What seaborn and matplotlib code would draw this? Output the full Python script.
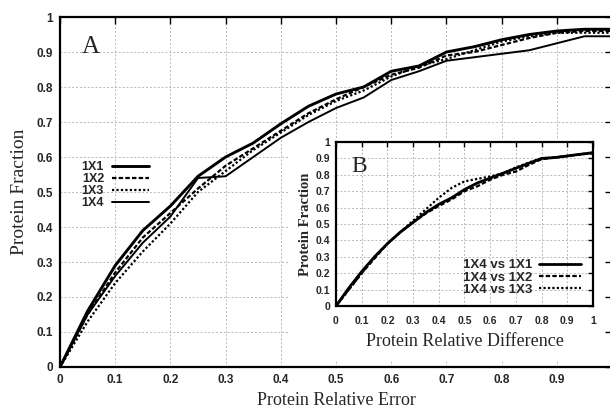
import numpy as np
import pandas as pd
import matplotlib
matplotlib.use("Agg")
import matplotlib.pyplot as plt
from matplotlib.patches import Rectangle
import seaborn as sns

# ---- data -------------------------------------------------------------
err_x = [0, .05, .1, .15, .2, .25, .3, .35, .4, .45, .5,
         .55, .6, .65, .7, .75, .8, .85, .9, .95, 1.0]
frac_1x1 = [0, .16, .29, .39, .46, .545, .60, .64, .695, .745, .78,
            .80, .845, .86, .90, .915, .935, .95, .96, .965, .965]
frac_1x2 = [0, .15, .27, .37, .44, .51, .575, .625, .675, .725, .765,
            .80, .835, .855, .89, .90, .92, .94, .955, .96, .96]
frac_1x3 = [0, .13, .24, .33, .41, .50, .56, .62, .67, .72, .76,
            .79, .83, .86, .88, .905, .93, .945, .955, .955, .955]
frac_1x4 = [0, .15, .26, .355, .43, .54, .545, .60, .655, .70, .74,
            .77, .82, .845, .875, .885, .895, .905, .925, .945, .945]

diff_x = [0, .05, .1, .15, .2, .25, .3, .35, .4, .45, .5,
          .55, .6, .65, .7, .75, .8, .85, .9, .95, 1.0]
frac_4v1 = [0, .11, .21, .30, .38, .45, .51, .57, .62, .66, .71,
            .75, .78, .81, .84, .87, .90, .905, .915, .925, .935]
frac_4v2 = [0, .10, .20, .29, .38, .45, .51, .565, .61, .65, .70,
            .73, .77, .80, .82, .86, .895, .905, .915, .925, .93]
frac_4v3 = [0, .10, .20, .30, .38, .45, .52, .59, .66, .72, .76,
            .775, .79, .81, .845, .875, .90, .905, .915, .925, .935]

main_labels = ["1X1", "1X2", "1X3", "1X4"]
inset_labels = ["1X4 vs 1X1", "1X4 vs 1X2", "1X4 vs 1X3"]

tick_vals = [0, .1, .2, .3, .4, .5, .6, .7, .8, .9, 1.0]
tick_text = ["0", "0.1", "0.2", "0.3", "0.4", "0.5", "0.6", "0.7", "0.8", "0.9", "1"]

# ---- style ------------------------------------------------------------
sns.set_theme(style="white")
plt.rcParams["font.family"] = ["DejaVu Sans"]
serif = "Liberation Serif"
tick_font = "Liberation Sans"

grid_kw = dict(color="#b8b8b8", lw=0.7, ls=(0, (2, 2)), zorder=0.3)

fig = plt.figure(figsize=(6.10, 4.09), dpi=100)
fig.patch.set_facecolor("white")


def frame(ax, size, length, pad):
    ax.set_xlim(0, 1)
    ax.set_ylim(0, 1)
    ax.set_xticks(tick_vals, tick_text)
    ax.set_yticks(tick_vals, tick_text)
    ax.tick_params(direction="in", top=True, right=True, length=length,
                   width=1.0, color="black", labelsize=size, pad=pad)
    for lab in ax.get_xticklabels() + ax.get_yticklabels():
        lab.set_fontweight("bold")
        lab.set_family(tick_font)
    for s in ax.spines.values():
        s.set_color("black")
        s.set_linewidth(1.6)
    for v in tick_vals[1:-1]:
        ax.axvline(v, **grid_kw)
        ax.axhline(v, **grid_kw)


# ---- main panel -------------------------------------------------------
ax = fig.add_axes([0.0984, 0.1027, 0.905, 0.8557])
frame(ax, 8.5, 5, 5)

main_series = [frac_1x1, frac_1x2, frac_1x3, frac_1x4]
main_styles = [("-", 2.1), ((0, (2, 1)), 1.6), ((0, (1, 1)), 1.6), ("-", 1.4)]
for lab, ys, (ls, lw) in zip(main_labels, main_series, main_styles):
    df = pd.DataFrame({"x": err_x, "y": ys})
    sns.lineplot(data=df, x="x", y="y", ax=ax, color="black",
                 linestyle=ls, lw=lw, label=lab, zorder=3)

# blank area that holds the inset panel
ax.add_patch(Rectangle((0.415, 0.02), 0.59, 0.635, facecolor="white",
                       edgecolor="none", zorder=0.4, transform=ax.transData))

ax.set_xlabel("Protein Relative Error", family=serif, fontsize=13, labelpad=4.5)
ax.set_ylabel("Protein Fraction", family=serif, fontsize=14, labelpad=6)
ax.text(0.04, 0.915, "A", transform=ax.transAxes, family=serif,
        fontsize=18, va="center", ha="left")

ax.legend(loc="upper left", bbox_to_anchor=(0.03, 0.603), frameon=False,
          markerfirst=False, handlelength=3.0, handletextpad=0.6,
          labelspacing=0.0, borderaxespad=0,
          prop={"family": tick_font, "weight": "bold", "size": 9})

# ---- inset panel ------------------------------------------------------
ins = fig.add_axes([0.5508, 0.2518, 0.4213, 0.401])
ins.set_facecolor("white")
frame(ins, 7.5, 3.5, 4)
ins.tick_params(axis="x", pad=7)

inset_series = [frac_4v1, frac_4v2, frac_4v3]
inset_styles = [("-", 2.0), ((0, (2, 1)), 1.6), ((0, (1, 1)), 1.6)]
for lab, ys, (ls, lw) in zip(inset_labels, inset_series, inset_styles):
    df = pd.DataFrame({"x": diff_x, "y": ys})
    sns.lineplot(data=df, x="x", y="y", ax=ins, color="black",
                 linestyle=ls, lw=lw, label=lab, zorder=3)

ins.set_xlabel("Protein Relative Difference", family=serif, fontsize=13, labelpad=5)
ins.set_ylabel("Protein Fraction", family=serif, fontsize=10.5, fontweight="bold",
               labelpad=3)
ins.text(0.06, 0.85, "B", transform=ins.transAxes, family=serif,
         fontsize=17, va="center", ha="left")
ins.legend(loc="lower right", bbox_to_anchor=(0.975, 0.03), frameon=False,
           markerfirst=False, handlelength=3.2, handletextpad=0.5,
           labelspacing=0.0, borderaxespad=0,
           prop={"family": tick_font, "weight": "bold", "size": 9.5})

fig.savefig("out.png", dpi=100, facecolor="white")
